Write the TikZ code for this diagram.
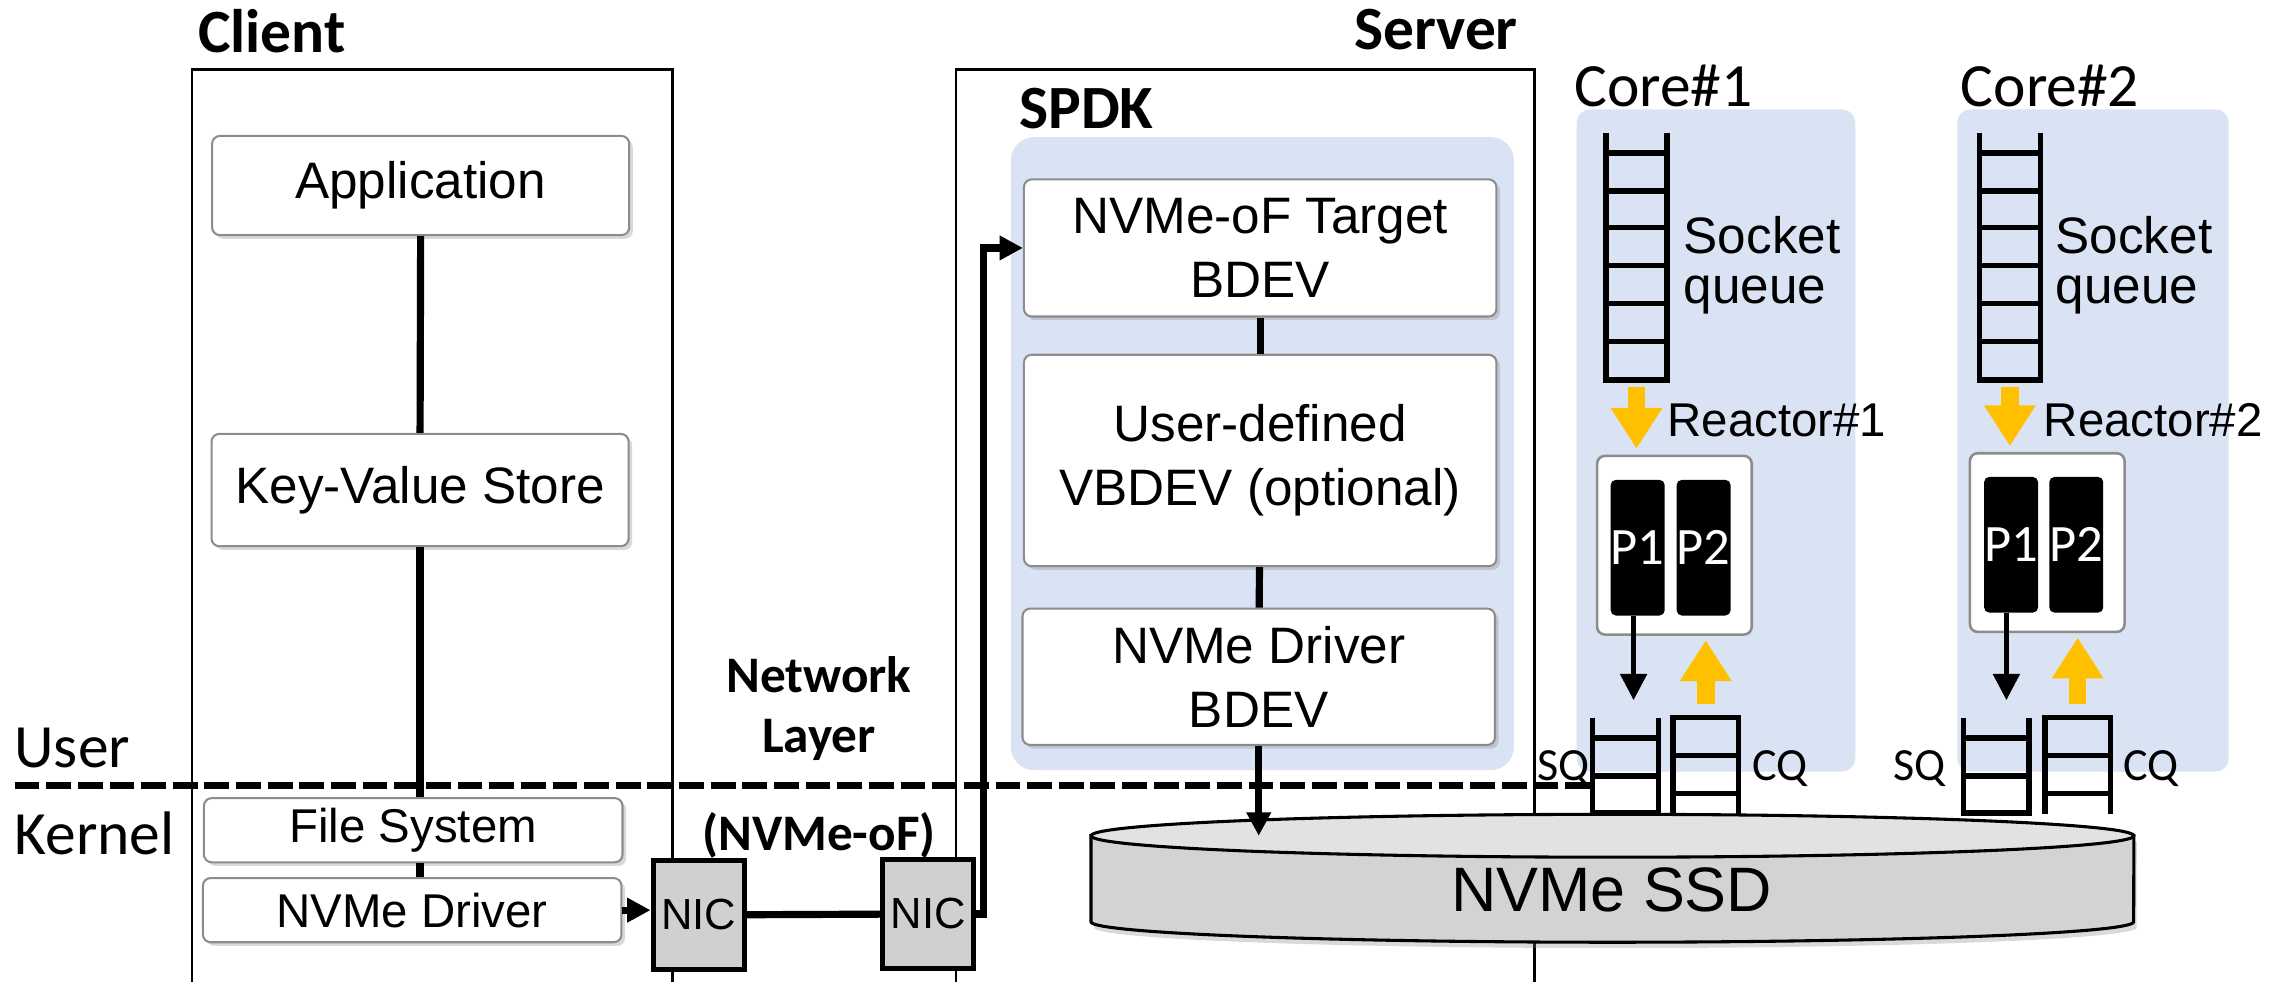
\documentclass[tikz,border=0pt]{standalone}
\usepackage{fontspec}
\setmainfont{Liberation Sans}
\newfontfamily\carlito{Carlito}
\usepackage{tikz}
\usetikzlibrary{arrows.meta,positioning,shadows,calc}
\definecolor{spdkblue}{HTML}{DAE3F3}
\definecolor{reactgold}{HTML}{FFC000}
\definecolor{boxgray}{HTML}{8C8C8C}
\definecolor{nicgray}{HTML}{D0D0D0}
\definecolor{ssdside}{HTML}{D3D3D3}
\definecolor{ssdtop}{HTML}{E2E2E2}

\begin{document}
\begin{tikzpicture}[x=0.02cm,y=-0.02cm,
  layer/.style={draw=boxgray,line width=0.8pt,rounded corners=3pt,fill=white,
                inner sep=0pt,align=center,font=\fontsize{20}{25}\selectfont,
                drop shadow={shadow xshift=0.05cm,shadow yshift=-0.05cm,opacity=0.3}},
  kbox/.style={layer,font=\fontsize{18.5}{22}\selectfont,
               minimum width=5.74cm,minimum height=0.88cm},
  region/.style={fill=spdkblue,draw=none},
  title/.style={font=\carlito\bfseries\fontsize{24}{28}\selectfont,
                anchor=base west,inner sep=0pt},
  side/.style={font=\carlito\fontsize{24}{28}\selectfont,anchor=base west,inner sep=0pt},
  netlbl/.style={font=\carlito\bfseries\fontsize{20}{24}\selectfont,anchor=base,inner sep=0pt},
  note/.style={font=\fontsize{20}{24}\selectfont,anchor=base west,inner sep=0pt},
  nic/.style={draw,line width=2pt,fill=nicgray,minimum width=1.25cm,
              minimum height=1.5cm,inner sep=0pt,font=\fontsize{17}{20}\selectfont},
  reactor/.style={draw=boxgray,line width=1pt,rounded corners=3pt,fill=white,
                  minimum width=2.12cm,minimum height=2.45cm},
  proc/.style={fill=black,rounded corners=2pt,minimum width=0.74cm,minimum height=1.86cm,
               inner sep=0pt,text=white,font=\carlito\fontsize{20.5}{22}\selectfont},
  qlabel/.style={font=\carlito\fontsize{18}{20}\selectfont,inner sep=0pt,anchor=base},
  ladder/.style={line width=2.1pt},
  link/.style={line width=2.8pt},
  arr/.style={link,-{Triangle[length=0.32cm,width=0.32cm]}},
  parr/.style={line width=1.8pt,-{Triangle[length=0.36cm,width=0.36cm]}},
  yarr/.style={reactgold,line width=0.24cm,-{Triangle[length=0.56cm,width=0.67cm]}}
]
\useasboundingbox (0,0) rectangle (1568,673);

% shaded areas
\fill[region,rounded corners=0.32cm] (693,94) rectangle (1038,528);
\fill[region,rounded corners=0.18cm] (1081,75) rectangle (1272,529);
\fill[region,rounded corners=0.18cm] (1342,75) rectangle (1528,529);

% client / server frames
\draw[line width=1pt] (131.5,673) -- (131.5,47.5) -- (461,47.5) -- (461,673);
\draw[line width=1pt] (655.5,673) -- (655.5,47.5) -- (1052,47.5) -- (1052,673);

\node[title] (client) at (135.5,36) {Client};
\node[title] (server) at (928,34) {Server};
\node[title] (spdk) at (698.5,88) {SPDK};
\node[side] (core1) at (1079,73) {Core\#1};
\node[side] (core2) at (1344,73) {Core\#2};
\node[side] (user) at (9.6,526) {User};
\node[side] (kernel) at (9.6,586) {Kernel};

\node[netlbl] (netw) at (561.5,475) {Network};
\node[netlbl] (netl) at (561.5,516) {Layer};
\node[netlbl] (nvmeof) at (561.5,583) {(NVMe-oF)};

% SSD
\coordinate (ssdc) at (1105.5,573);
\path[draw,line width=1.2pt,fill=ssdside,
      drop shadow={shadow xshift=0.04cm,shadow yshift=-0.08cm,opacity=0.3}]
  (748,573) -- (748,632) arc[start angle=180,end angle=360,x radius=7.15cm,y radius=0.28cm]
  -- (1463,573) -- cycle;
\draw[line width=1.2pt,fill=ssdtop] (ssdc) ellipse[x radius=7.15cm,y radius=0.294cm];
\node[font=\fontsize{24.5}{28}\selectfont] (ssd) at (1105,610) {NVMe SSD};

% client stack
\node[layer,minimum width=5.72cm,minimum height=1.36cm] (app) at (288.4,127.2) {Application};
\node[layer,minimum width=5.72cm,minimum height=1.54cm] (kvs) at (288,336) {Key-Value Store};
\node[kbox] (fs) at (283.3,569.2) {File System};
\node[kbox] (cdrv) at (282.6,624) {NVMe Driver};

\draw[link] (app.south) -- (kvs.north);
\draw[link] (kvs.south) -- (kvs.south |- fs.north);
\draw[link] (kvs.south |- fs.south) -- (kvs.south |- cdrv.north);

% SPDK stack
\node[layer,minimum width=6.48cm,minimum height=1.88cm] (tgt) at (864,170) {NVMe-oF Target\\BDEV};
\node[layer,minimum width=6.48cm,minimum height=2.9cm] (vbdev) at (864,315.7) {User-defined\\VBDEV (optional)};
\node[layer,minimum width=6.48cm,minimum height=1.87cm] (dbdev) at (863,464) {NVMe Driver\\BDEV};

\draw[link] (tgt) -- (vbdev);
\draw[link] (vbdev) -- (dbdev);
\draw[arr] (dbdev.south) -- (dbdev.south |- ssdc);

% network
\node[nic] (nica) at (479,627.3) {NIC};
\node[nic] (nicb) at (636.3,626.6) {NIC};
\draw[arr] (cdrv.east) -- (cdrv.east -| nica.west);
\draw[link] (nica) -- (nicb);
\draw[arr] (nicb.east) -- ++(5,0) |- (tgt.west);

% cores
\foreach \x in {1101,1357} {
  \draw[ladder] (\x,91) -- (\x,260.5) -- (\x+42,260.5) -- (\x+42,91);
  \foreach \y in {105,131,156,182,208,234}
    \draw[ladder] (\x,\y) -- (\x+42,\y);
}
\node[note] (sock1) at (1154,173.7) {Socket};
\node[note] (queue1) at (1154,208) {queue};
\node[note] (sock2) at (1409,173.7) {Socket};
\node[note] (queue2) at (1409,208) {queue};

\node[reactor] (react1) at (1148,373.8) {};
\node[reactor] (react2) at (1403.6,372) {};
\node[proc] (p1a) at (1122.8,375.5) {P1};
\node[proc] (p2a) at (1168,375.5) {P2};
\node[proc] (p1b) at (1378.8,373.5) {P1};
\node[proc] (p2b) at (1423.5,373.5) {P2};

\node[note,font=\fontsize{18.5}{22}\selectfont] (rlbl1) at (1143,299.4) {Reactor\#1};
\node[note,font=\fontsize{18.5}{22}\selectfont] (rlbl2) at (1401,299.4) {Reactor\#2};

% SQ / CQ
\foreach \x in {1092,1346} {
  \draw[ladder] (\x,492) -- (\x,557.5) -- (\x+45,557.5) -- (\x+45,492);
  \foreach \y in {506,532}
    \draw[ladder] (\x,\y) -- (\x+45,\y);
}
\foreach \x in {1147,1402} {
  \draw[ladder] (\x,558) -- (\x,492) -- (\x+45,492) -- (\x+45,558);
  \foreach \y in {518,544}
    \draw[ladder] (\x,\y) -- (\x+45,\y);
}
\node[qlabel,anchor=base east] (sqa) at (1090,535) {SQ};
\node[qlabel] (cqa) at (1220.5,535) {CQ};
\node[qlabel] (sqb) at (1316,535) {SQ};
\node[qlabel] (cqb) at (1474.5,535) {CQ};

\coordinate (squeue1) at (1122,265);
\coordinate (squeue2) at (1378,265);
\coordinate (cq1) at (1169.5,483);
\coordinate (cq2) at (1424.5,483);
\coordinate (sq1) at (1120,480);
\coordinate (sq2) at (1375.6,480);

\draw[yarr,shorten >=0.08cm] (squeue1) -- (squeue1 |- react1.north);
\draw[yarr,shorten >=0.08cm] (squeue2) -- (squeue2 |- react2.north);
\draw[yarr,shorten >=0.06cm] (cq1) -- (cq1 |- react1.south);
\draw[yarr,shorten >=0.06cm] (cq2) -- (cq2 |- react2.south);
\draw[parr] (p1a.south -| sq1) -- (sq1);
\draw[parr] (p1b.south -| sq2) -- (sq2);

% user / kernel boundary
\draw[line width=0.09cm,dash pattern=on 0.34cm off 0.094cm] (10,538.5) -- (1090,538.5);
\end{tikzpicture}
\end{document}
